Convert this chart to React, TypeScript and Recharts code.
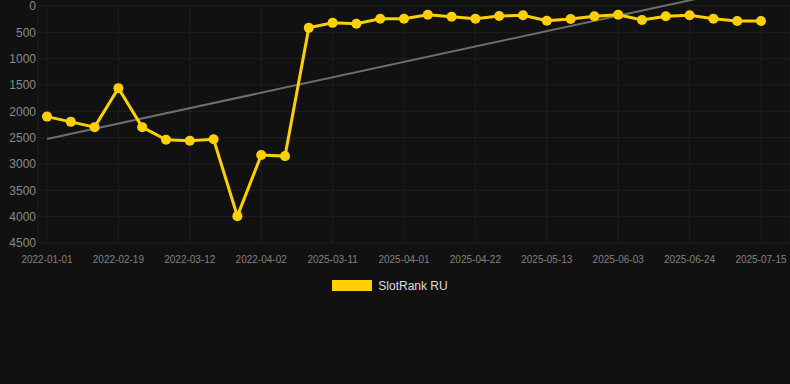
import React from "react";
import { CartesianGrid, Legend, Line, LineChart, XAxis, YAxis } from "recharts";

const dates = [
  "2022-01-01", "2022-01-15", "2022-02-05", "2022-02-19", "2022-02-26", "2022-03-05",
  "2022-03-12", "2022-03-19", "2022-03-26", "2022-04-02", "2022-04-09", "2025-03-04",
  "2025-03-11", "2025-03-18", "2025-03-25", "2025-04-01", "2025-04-08", "2025-04-15",
  "2025-04-22", "2025-04-29", "2025-05-06", "2025-05-13", "2025-05-20", "2025-05-27",
  "2025-06-03", "2025-06-10", "2025-06-17", "2025-06-24", "2025-07-01", "2025-07-08",
  "2025-07-15",
];

const ranks = [
  2100, 2200, 2300, 1560, 2300, 2540, 2560, 2530, 3990, 2830, 2850, 415,
  320, 336, 241, 241, 165, 203, 241, 190, 177, 279, 247, 196,
  165, 266, 196, 177, 241, 285, 285,
];

// trend endpoints only (first and last category)
const trendStart = 2525;
const trendEnd = -400;

const yTicks = [0, 500, 1000, 1500, 2000, 2500, 3000, 3500, 4000, 4500];

const data = dates.map((date, i) => ({
  date,
  rank: ranks[i],
  trend: i === 0 ? trendStart : i === dates.length - 1 ? trendEnd : null,
}));

const YELLOW = "#ffd000";

function LegendContent() {
  return (
    <div style={{ display: "flex", justifyContent: "center", alignItems: "center", paddingRight: 10, height: 19, fontFamily: "Liberation Sans, Arial, sans-serif" }}>
      <span style={{ display: "inline-block", width: 40, height: 11, background: YELLOW, marginRight: 6 }} />
      <span style={{ color: "#dddddd", fontSize: 12 }}>SlotRank RU</span>
    </div>
  );
}

export default function App() {
  return (
    <div style={{ position: "absolute", left: 0, top: 0, width: 790, height: 384, background: "#111111" }}>
      {/* trend line runs past the top of the plot, like the original */}
      <style>{`.recharts-line, .recharts-line *, .recharts-line-curve { clip-path: none !important; }`}</style>
      <LineChart
        width={790}
        height={384}
        data={data}
        margin={{ top: 6, right: 0, bottom: 92, left: 0 }}
        style={{ fontFamily: "Liberation Sans, Arial, sans-serif" }}
      >
        <CartesianGrid stroke="#1f1f1f" strokeWidth={1} />
        <XAxis
          dataKey="date"
          interval={2}
          padding={{ left: 9, right: 29 }}
          axisLine={false}
          tickLine={false}
          tickSize={6}
          tickMargin={7}
          height={30}
          tick={{ fill: "#808080", fontSize: 10 }}
        />
        <YAxis
          reversed
          domain={[0, 4500]}
          allowDataOverflow
          ticks={yTicks}
          interval={0}
          width={38}
          axisLine={false}
          tickLine={false}
          tickSize={0}
          tickMargin={2}
          tick={{ fill: "#8a8a8a", fontSize: 12 }}
        />
        <Legend
          layout="horizontal"
          verticalAlign="bottom"
          align="center"
          content={<LegendContent />}
          wrapperStyle={{ top: 276, bottom: "auto", left: 0, width: 790 }}
        />
        <Line
          dataKey="trend"
          stroke="#6e6e6e"
          strokeWidth={2}
          dot={false}
          connectNulls
          legendType="none"
          isAnimationActive={false}
        />
        <Line
          dataKey="rank"
          name="SlotRank RU"
          stroke={YELLOW}
          strokeWidth={3}
          dot={{ r: 5, fill: YELLOW, stroke: YELLOW, strokeWidth: 0 }}
          activeDot={false}
          isAnimationActive={false}
        />
      </LineChart>
    </div>
  );
}
